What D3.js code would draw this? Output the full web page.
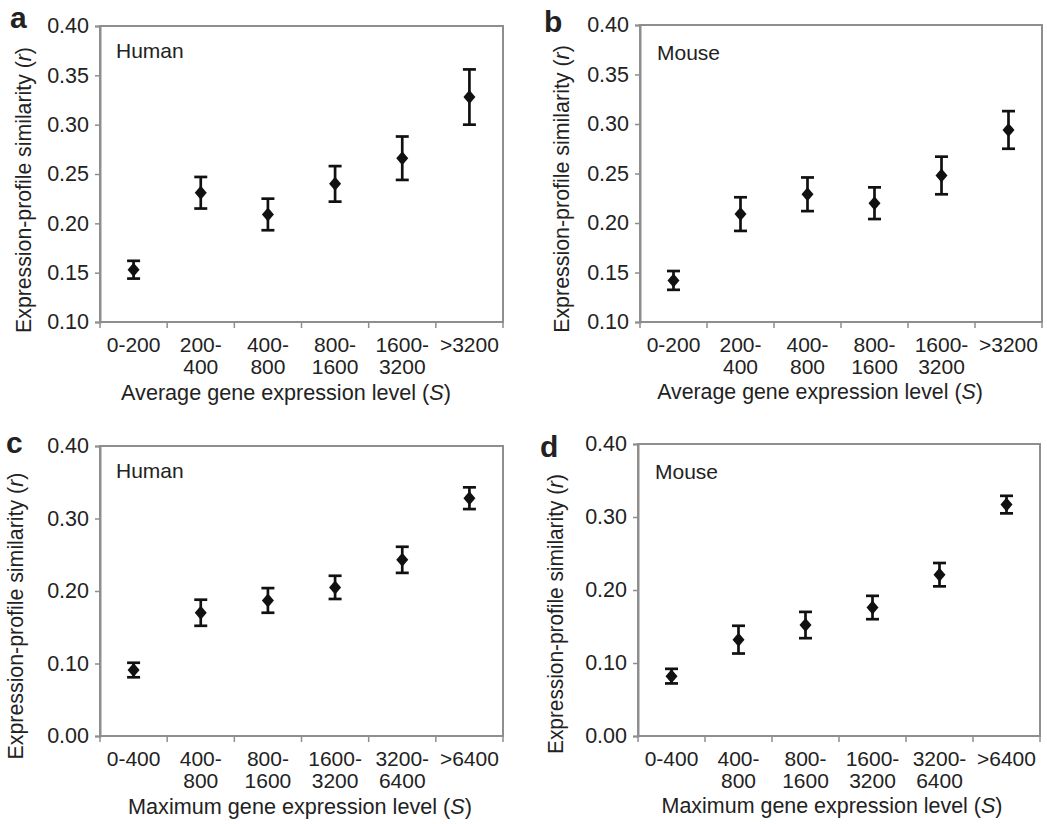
<!DOCTYPE html>
<html>
<head>
<meta charset="utf-8">
<script src="https://cdn.jsdelivr.net/npm/d3@7"></script>
<style>
  html, body { margin: 0; padding: 0; background: #fff; }
  svg { display: block; }
  text { font-family: "Liberation Sans", Arial, sans-serif; fill: #222; }
</style>
</head>
<body>
<svg id="fig" width="1047" height="824"></svg>
<script>
// Expression-level bins
const avgCategories = ["0-200", "200-400", "400-800", "800-1600", "1600-3200", ">3200"];
const avgCategoryLines = [["0-200"], ["200-", "400"], ["400-", "800"], ["800-", "1600"], ["1600-", "3200"], [">3200"]];
const maxCategories = ["0-400", "400-800", "800-1600", "1600-3200", "3200-6400", ">6400"];
const maxCategoryLines = [["0-400"], ["400-", "800"], ["800-", "1600"], ["1600-", "3200"], ["3200-", "6400"], [">6400"]];

// Mean expression-profile similarity (r) and error-bar half widths
const humanAvgMean = [0.153, 0.231, 0.209, 0.240, 0.266, 0.328];
const humanAvgErr  = [0.009, 0.016, 0.016, 0.018, 0.022, 0.028];
const mouseAvgMean = [0.142, 0.209, 0.229, 0.220, 0.248, 0.294];
const mouseAvgErr  = [0.0095, 0.017, 0.017, 0.016, 0.019, 0.019];
const humanMaxMean = [0.091, 0.170, 0.187, 0.205, 0.243, 0.328];
const humanMaxErr  = [0.010, 0.018, 0.017, 0.016, 0.018, 0.015];
const mouseMaxMean = [0.082, 0.132, 0.152, 0.176, 0.221, 0.317];
const mouseMaxErr  = [0.010, 0.019, 0.018, 0.016, 0.016, 0.012];

// Y-axis ticks
const avgYTicks = [0.10, 0.15, 0.20, 0.25, 0.30, 0.35, 0.40];
const maxYTicks = [0.00, 0.10, 0.20, 0.30, 0.40];

const yTitle = "Expression-profile similarity (";
const avgXTitle = "Average gene expression level (";
const maxXTitle = "Maximum gene expression level (";

const panels = [
  { letter: "a", species: "Human", cats: avgCategories, lines: avgCategoryLines, mean: humanAvgMean, err: humanAvgErr,
    yTicks: avgYTicks, xTitle: avgXTitle,
    box: { l: 100, r: 503, t: 26, b: 322 }, letterPos: [10, 28], speciesPos: [116, 58],
    yTitlePos: [24, 190], yTitleLen: 286, xTitleX: 286, xTitleLen: 330 },
  { letter: "b", species: "Mouse", cats: avgCategories, lines: avgCategoryLines, mean: mouseAvgMean, err: mouseAvgErr,
    yTicks: avgYTicks, xTitle: avgXTitle,
    box: { l: 640, r: 1042, t: 25, b: 322 }, letterPos: [544, 32], speciesPos: [657, 60],
    yTitlePos: [562, 189], yTitleLen: 288, xTitleX: 820, xTitleLen: 326 },
  { letter: "c", species: "Human", cats: maxCategories, lines: maxCategoryLines, mean: humanMaxMean, err: humanMaxErr,
    yTicks: maxYTicks, xTitle: maxXTitle,
    box: { l: 100, r: 503, t: 446, b: 736 }, letterPos: [6, 453], speciesPos: [116, 478],
    yTitlePos: [16, 616], yTitleLen: 287, xTitleX: 300, xTitleLen: 344 },
  { letter: "d", species: "Mouse", cats: maxCategories, lines: maxCategoryLines, mean: mouseMaxMean, err: mouseMaxErr,
    yTicks: maxYTicks, xTitle: maxXTitle,
    box: { l: 638, r: 1040, t: 444, b: 736 }, letterPos: [540, 457], speciesPos: [655, 479],
    yTitlePos: [555, 614], yTitleLen: 280, xTitleX: 832, xTitleLen: 341 }
];

const svg = d3.select("#fig");
const frameColor = "#8e8e8e";
const fmt = d3.format(".2f");
const fontFamily = '"Liberation Sans", Arial, sans-serif';

// Title text with an italic variable, stretched along its reading direction to a given length
function titleText(parent, prefix, variable, length, transform) {
  const outer = parent.append("g").attr("transform", transform);
  const inner = outer.append("g");
  const t = inner.append("text").attr("text-anchor", "middle").attr("dominant-baseline", "central")
    .style("font-size", "21.5px");
  t.append("tspan").text(prefix);
  t.append("tspan").style("font-style", "italic").text(variable);
  t.append("tspan").text(")");
  const w = t.node().getBBox().width;
  inner.attr("transform", `scale(${length / w},1)`);
}

panels.forEach(p => {
  const g = svg.append("g");
  const { l, r, t, b } = p.box;

  const x = d3.scaleBand().domain(p.cats).range([l, r]).paddingInner(0).paddingOuter(0);
  const y = d3.scaleLinear().domain([p.yTicks[0], p.yTicks[p.yTicks.length - 1]]).range([b, t]);

  // plot frame
  g.append("rect")
    .attr("x", l).attr("y", t).attr("width", r - l).attr("height", b - t)
    .attr("fill", "none").attr("stroke", frameColor).attr("stroke-width", 2);

  // y axis
  const yAxis = g.append("g").attr("transform", `translate(${l},0)`)
    .call(d3.axisLeft(y).tickValues(p.yTicks).tickFormat(fmt).tickSize(5).tickPadding(6));
  yAxis.select(".domain").attr("stroke", frameColor).attr("stroke-width", 2);
  yAxis.selectAll(".tick line").attr("stroke", frameColor).attr("stroke-width", 1.5);
  yAxis.selectAll(".tick text")
    .style("font-family", fontFamily)
    .style("font-size", "21.5px").attr("fill", "#222");

  // x axis: ticks at bin boundaries
  const bounds = p.cats.map(c => x(c)).concat([r]);
  const xAxisG = g.append("g");
  xAxisG.append("line").attr("x1", l).attr("x2", r).attr("y1", b).attr("y2", b)
    .attr("stroke", frameColor).attr("stroke-width", 2);
  xAxisG.selectAll("line.tk").data(bounds).join("line").attr("class", "tk")
    .attr("x1", d => d).attr("x2", d => d).attr("y1", b).attr("y2", b + 6)
    .attr("stroke", frameColor).attr("stroke-width", 1.5);

  // x tick labels (two lines where needed)
  p.cats.forEach((c, i) => {
    const cx = x(c) + x.bandwidth() / 2;
    const txt = g.append("text").attr("text-anchor", "middle").style("font-size", "21px");
    p.lines[i].forEach((s, k) => {
      txt.append("tspan").attr("x", cx).attr("y", b + 30 + k * 21.5).text(s);
    });
  });

  // axis titles
  titleText(g, p.xTitle, "S", p.xTitleLen, `translate(${p.xTitleX},${b + 70})`);
  titleText(g, yTitle, "r", p.yTitleLen, `translate(${p.yTitlePos[0]},${p.yTitlePos[1]}) rotate(-90)`);

  // species label
  g.append("text").attr("x", p.speciesPos[0]).attr("y", p.speciesPos[1])
    .style("font-size", "21px").text(p.species);

  // panel letter
  g.append("text").attr("x", p.letterPos[0]).attr("y", p.letterPos[1])
    .style("font-size", "30px").style("font-weight", "bold").attr("fill", "#111").text(p.letter);

  // error bars
  const pts = p.cats.map((c, i) => ({ cx: x(c) + x.bandwidth() / 2, m: p.mean[i], e: p.err[i] }));
  const eb = g.append("g").attr("stroke", "#111").attr("stroke-width", 2.7).attr("fill", "none");
  eb.selectAll("line.v").data(pts).join("line").attr("class", "v")
    .attr("x1", d => d.cx).attr("x2", d => d.cx)
    .attr("y1", d => y(d.m + d.e)).attr("y2", d => y(d.m - d.e));
  eb.selectAll("line.top").data(pts).join("line").attr("class", "top")
    .attr("x1", d => d.cx - 6.5).attr("x2", d => d.cx + 6.5)
    .attr("y1", d => y(d.m + d.e)).attr("y2", d => y(d.m + d.e));
  eb.selectAll("line.bot").data(pts).join("line").attr("class", "bot")
    .attr("x1", d => d.cx - 6.5).attr("x2", d => d.cx + 6.5)
    .attr("y1", d => y(d.m - d.e)).attr("y2", d => y(d.m - d.e));

  // diamond markers
  g.selectAll("path.mk").data(pts).join("path").attr("class", "mk")
    .attr("d", "M0,-7L6,0L0,7L-6,0Z")
    .attr("transform", d => `translate(${d.cx},${y(d.m)})`)
    .attr("fill", "#111");
});
</script>
</body>
</html>
